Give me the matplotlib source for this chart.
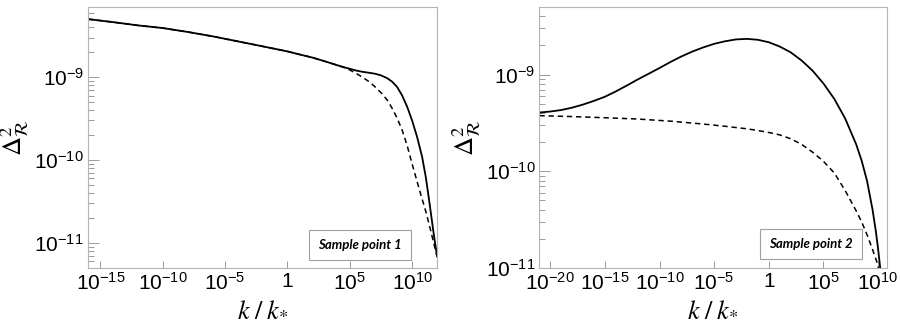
import numpy as np
import matplotlib.pyplot as plt
from matplotlib.ticker import FixedLocator, LogLocator, NullLocator, NullFormatter

plt.rcParams['font.family'] = ['Liberation Sans', 'DejaVu Sans']
plt.rcParams['mathtext.fontset'] = 'custom'
plt.rcParams['mathtext.rm'] = 'Liberation Sans'
plt.rcParams['mathtext.it'] = 'Liberation Sans:italic'
plt.rcParams['mathtext.bf'] = 'Liberation Sans:bold'

# Sample point 1 (log10 k/k*, Delta^2_R)
logk1_solid = [-16, -14, -12, -10, -8, -6, -4, -2, 0, 1, 2, 3, 4, 4.5, 5, 5.5, 6, 6.5, 7,
               7.5, 8, 8.4, 8.8, 9.2, 9.6, 10.0, 10.4, 10.8, 11.1, 11.4, 11.7, 12.0]
p1_solid = [5.0e-9, 4.6e-9, 4.2e-9, 3.9e-9, 3.5e-9, 3.1e-9, 2.7e-9, 2.35e-9, 2.04e-9,
            1.87e-9, 1.72e-9, 1.55e-9, 1.39e-9, 1.32e-9, 1.26e-9, 1.20e-9, 1.16e-9,
            1.13e-9, 1.10e-9, 1.05e-9, 9.7e-10, 8.8e-10, 7.6e-10, 6.0e-10, 4.4e-10,
            3.0e-10, 1.9e-10, 1.1e-10, 6.2e-11, 3.0e-11, 1.4e-11, 6.9e-12]
logk1_dash = [-16, -14, -12, -10, -8, -6, -4, -2, 0, 1, 2, 3, 4, 4.5, 5, 5.5, 6, 6.5, 7,
              7.5, 8, 8.4, 8.8, 9.2, 9.6, 10.0, 10.4, 10.8, 11.1, 11.4, 11.7, 12.0]
p1_dash = [5.0e-9, 4.6e-9, 4.2e-9, 3.9e-9, 3.5e-9, 3.1e-9, 2.7e-9, 2.35e-9, 2.04e-9,
           1.87e-9, 1.72e-9, 1.55e-9, 1.39e-9, 1.31e-9, 1.22e-9, 1.11e-9, 1.00e-9,
           8.9e-10, 7.7e-10, 6.5e-10, 5.3e-10, 4.2e-10, 3.2e-10, 2.3e-10, 1.5e-10,
           9.0e-11, 5.5e-11, 3.4e-11, 2.4e-11, 1.6e-11, 1.05e-11, 6.9e-12]

# Sample point 2
logk2_solid = [-21, -20, -19, -18, -17, -16, -15, -14, -13, -12, -11, -10, -9, -8, -7,
               -6, -5, -4, -3, -2, -1, 0, 1, 2, 3, 4, 5, 6, 7, 8, 8.5, 9, 9.5, 9.8,
               10.0, 10.2, 10.3]
p2_solid = [4.05e-10, 4.15e-10, 4.3e-10, 4.55e-10, 4.9e-10, 5.35e-10, 5.9e-10, 6.7e-10,
            7.7e-10, 8.9e-10, 1.02e-9, 1.17e-9, 1.35e-9, 1.54e-9, 1.73e-9, 1.91e-9,
            2.08e-9, 2.21e-9, 2.31e-9, 2.34e-9, 2.29e-9, 2.16e-9, 1.95e-9, 1.70e-9,
            1.40e-9, 1.10e-9, 8.1e-10, 5.6e-10, 3.5e-10, 1.9e-10, 1.29e-10, 7.9e-11,
            4.0e-11, 2.4e-11, 1.6e-11, 1.0e-11, 7.9e-12]
logk2_dash = [-21, -18, -15, -12, -9, -6, -4, -2, -1, 0, 1, 2, 3, 4, 5, 6, 7, 8, 8.5,
              9, 9.5, 9.9, 10.15]
p2_dash = [3.76e-10, 3.68e-10, 3.58e-10, 3.47e-10, 3.30e-10, 3.08e-10, 2.92e-10,
           2.75e-10, 2.64e-10, 2.52e-10, 2.38e-10, 2.17e-10, 1.90e-10, 1.58e-10,
           1.27e-10, 9.6e-11, 6.3e-11, 3.9e-11, 3.0e-11, 2.2e-11, 1.55e-11, 1.15e-11, 9e-12]

xticks1 = [1e-15, 1e-10, 1e-5, 1, 1e5, 1e10]
xlabels1 = ['$10^{-15}$', '$10^{-10}$', '$10^{-5}$', '1', '$10^{5}$', '$10^{10}$']
xticks2 = [1e-20, 1e-15, 1e-10, 1e-5, 1, 1e5, 1e10]
xlabels2 = ['$10^{-20}$', '$10^{-15}$', '$10^{-10}$', '$10^{-5}$', '1', '$10^{5}$', '$10^{10}$']
yticks = [1e-11, 1e-10, 1e-9]
ylabels = ['$10^{-11}$', '$10^{-10}$', '$10^{-9}$']

fig = plt.figure(figsize=(9, 3.31), dpi=100)
ax1 = fig.add_axes([0.0978, 0.1903, 0.3878, 0.7886])
ax2 = fig.add_axes([0.5993, 0.1903, 0.3860, 0.7886])

panels = [
    (ax1, logk1_solid, p1_solid, logk1_dash, p1_dash, (1e-16, 1e12), (5e-12, 7e-9),
     xticks1, xlabels1, 'Sample point 1', (0.778, 0.088)),
    (ax2, logk2_solid, p2_solid, logk2_dash, p2_dash, (1e-21, 10**10.8), (1e-11, 5e-9),
     xticks2, xlabels2, 'Sample point 2', (0.782, 0.092)),
]

for ax, ks, ps, kd, pd_, xl, yl, xt, xtl, name, pos in panels:
    ax.plot(10.0 ** np.array(kd), pd_, color='black', lw=1.1, ls=(0, (3.5, 2.5)))
    ax.plot(10.0 ** np.array(ks), ps, color='black', lw=1.3)
    ax.set_xscale('log')
    ax.set_yscale('log')
    ax.set_xlim(*xl)
    ax.set_ylim(*yl)
    ax.xaxis.set_major_locator(FixedLocator(xt))
    ax.set_xticklabels(xtl)
    ax.xaxis.set_minor_locator(NullLocator())
    ax.yaxis.set_major_locator(FixedLocator(yticks))
    ax.set_yticklabels(ylabels)
    ax.yaxis.set_minor_locator(LogLocator(base=10, subs=np.arange(2, 10)))
    ax.yaxis.set_minor_formatter(NullFormatter())
    for s in ax.spines.values():
        s.set_color('#b4b4b4')
        s.set_linewidth(0.8)
    ax.tick_params(axis='both', which='both', direction='in', color='#9a9a9a',
                   labelsize=15, width=0.7)
    ax.tick_params(axis='x', which='major', length=5, pad=3)
    ax.tick_params(axis='y', which='major', length=8, pad=3)
    ax.tick_params(axis='y', which='minor', length=4)
    ax.set_xlabel(r'$k\;/\;k_{*}$', fontsize=19, math_fontfamily='stix', labelpad=2)
    ax.set_ylabel(r'$\Delta^{2}_{\mathcal{R}}$', fontsize=19, math_fontfamily='stix',
                  labelpad=2)
    ax.text(pos[0], pos[1], name, transform=ax.transAxes, ha='center', va='center',
            fontsize=9.5, fontweight='bold', style='italic', family='Lato',
            bbox=dict(boxstyle='square,pad=0.7', fc='white', ec='#a0a0a0', lw=0.8))

fig.savefig('out.png', dpi=100)
